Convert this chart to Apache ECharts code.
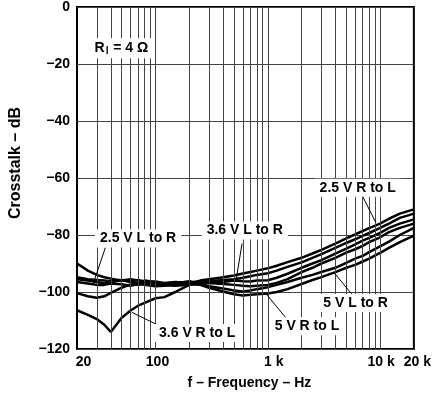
<!DOCTYPE html>
<html>
<head>
<meta charset="utf-8">
<script src="https://cdn.jsdelivr.net/npm/echarts@6/dist/echarts.min.js"></script>
<style>html,body{margin:0;padding:0;background:#fff}#c{width:434px;height:400px}</style>
</head>
<body>
<div id="c"></div>
<script>
// Frequencies (Hz)
const freqs = [20,25,30,35,40,50,60,70,80,100,120,150,200,250,300,400,500,600,700,800,1000,1200,1500,2000,2500,3000,4000,5000,6000,7000,8000,10000,12000,15000,20000];
// Crosstalk (dB)
const c1 = [-94.8,-95.5,-95.8,-96,-96.2,-96,-95.5,-96,-96.5,-96.3,-96.8,-96.5,-96.8,-96,-95.5,-94.8,-94.2,-93.5,-93,-92.5,-91.7,-90.8,-89.5,-88,-86.5,-85.2,-83,-81.2,-79.8,-78.6,-77.6,-76,-74.3,-72.5,-71];
const c2 = [-90,-92.5,-94,-94.8,-95.3,-96,-96.2,-95.8,-96.3,-96.8,-97,-96.7,-96.5,-96.8,-96.2,-95.8,-95.5,-95,-94.5,-94,-93.4,-92.5,-91.2,-89.6,-88,-86.7,-84.5,-82.8,-81.5,-80.3,-79.3,-77.5,-76,-74,-72.5];
const c3 = [-95.5,-96,-96.5,-97,-96.5,-95.8,-96.5,-97,-96,-96.5,-97.2,-97,-96.2,-97,-96.8,-96.5,-96,-96.2,-96.3,-96,-95.9,-95,-93.6,-91.5,-90,-88.8,-86.5,-84.8,-83.3,-82,-81,-79.3,-77.5,-76,-74.5];
const c4 = [-106.4,-108,-109.5,-111.5,-114,-109,-106.5,-104.8,-103.8,-102.2,-101.8,-100,-97.5,-96.5,-96.8,-97.2,-97.5,-97.8,-98,-97.8,-97.5,-96.8,-95.5,-93,-91.5,-90,-88,-86.2,-85,-83.8,-82.5,-80.8,-79,-77.5,-76];
const c5 = [-100.4,-101.5,-102,-101.5,-100.3,-98.5,-97.3,-97.5,-97,-97.2,-97.6,-97.8,-97.5,-97.3,-98,-98.8,-99.5,-99.8,-99.5,-99,-98.3,-97.5,-96.5,-95,-94,-93,-91.5,-89.8,-88.3,-87.3,-86,-84,-82.3,-80,-77.5];
const c6 = [-96.5,-97,-97.5,-97.5,-97,-97.3,-97.8,-97.2,-97.5,-98,-97.8,-97.2,-96.8,-97.5,-98.5,-99.8,-100.8,-101.2,-101,-100.8,-100.5,-100,-99,-97.2,-95.8,-94.8,-93,-91.5,-90.5,-89.3,-88.3,-86.3,-84.5,-82.5,-80.2];
const curves = [c1,c2,c3,c4,c5,c6];

// Axis ticks
const xTickValues = [20,100,1000,10000,20000];
const xGridValues = [30,40,50,60,70,80,90,100,200,300,400,500,600,700,800,900,1000,2000,3000,4000,5000,6000,7000,8000,9000,10000];

// Annotations: text, anchor [freq, dB]
const labelTexts = ['2.5 V L to R','3.6 V L to R','2.5 V R to L','5 V L to R','5 V R to L','3.6 V R to L'];
const labelAnchors = [[70,-81.2],[624,-78.4],[6325,-63.4],[6060,-103.9],[2234,-112],[235,-114.4]];
const leaderLines = [
  [[35.8,-84.4],[27.6,-97.6]],
  [[590,-83],[522,-95.9]],
  [[6800,-65.5],[9160,-75.6]],
  [[5900,-101.8],[3870,-93.1]],
  [[1510,-109.9],[954,-100.4]],
  [[61.4,-107.1],[105,-111.6]]
];
const rlAnchor = [49.7,-14.5];

const FONT = 'Liberation Sans, Arial, sans-serif';
const chart = echarts.init(document.getElementById('c'), null, {renderer:'canvas'});

const labelShift = {20:'p13', 100:'p4', 1000:'p12', 10000:'p2', 20000:'p7'};
const richX = {};
[2,4,7,12,13].forEach(n=>{ richX['p'+n] = {fontFamily:FONT, fontWeight:'bold', fontSize:14, color:'#000', padding:[0,0,0,n]}; });

const series = [];
series.push({
  type:'line', data:[], z:1, silent:true,
  markLine:{
    silent:true, symbol:'none', animation:false,
    label:{show:false},
    lineStyle:{color:'#444', width:1, type:'solid'},
    data: xGridValues.map(v=>({xAxis:v}))
  }
});
curves.forEach(c=>{
  series.push({
    type:'line', z:3, showSymbol:false, symbol:'none', animation:false,
    lineStyle:{color:'#000', width:2.5},
    data: freqs.map((f,i)=>[f,c[i]])
  });
});
series.push({
  type:'line', data:[], z:5, silent:true,
  markLine:{
    silent:true, symbol:'none', animation:false, label:{show:false},
    lineStyle:{color:'#000', width:1, type:'solid'},
    data: leaderLines.map(l=>[{coord:l[0]},{coord:l[1]}])
  },
  markPoint:{
    silent:true, animation:false,
    symbol:'rect', symbolSize:1, itemStyle:{color:'rgba(0,0,0,0)'},
    label:{show:true, position:'inside', color:'#000', fontFamily:FONT, fontWeight:'bold', fontSize:14,
      backgroundColor:'#fff', padding:[2,5]},
    data: labelTexts.map((t,i)=>({coord:labelAnchors[i], label:{formatter:t}})).concat([{
      coord: rlAnchor,
      label:{formatter:'{r|R}{s|l}{r| = 4 Ω}', padding:[2,3],
        rich:{r:{fontFamily:FONT,fontWeight:'bold',fontSize:14,color:'#000'},
              s:{fontFamily:FONT,fontWeight:'bold',fontSize:10,color:'#000',verticalAlign:'bottom',padding:[6,1,0,1]}}}
    }])
  }
});

chart.setOption({
  animation:false,
  backgroundColor:'#fff',
  grid:{left:74, right:15, top:6, bottom:51, show:true, borderColor:'#000', borderWidth:2, backgroundColor:'transparent'},
  xAxis:{
    type:'log', logBase:10, min:20, max:20000,
    axisLine:{show:false}, axisTick:{show:false}, splitLine:{show:false},
    axisLabel:{customValues:xTickValues, color:'#000', fontFamily:FONT, fontWeight:'bold', fontSize:14, margin:6,
      rich: richX,
      formatter:v=>{
        const t = v>=1000 ? (v/1000)+' k' : String(v);
        const key = labelShift[Math.round(v)];
        return key ? '{'+key+'|'+t+'}' : t;
      }},
    name:'f – Frequency – Hz', nameLocation:'middle', nameGap:27,
    nameTextStyle:{color:'#000', fontFamily:FONT, fontWeight:'bold', fontSize:14, padding:[0,0,0,8]}
  },
  yAxis:{
    type:'value', min:-120, max:0, interval:20,
    axisLine:{show:false}, axisTick:{show:false},
    splitLine:{show:true, lineStyle:{color:'#444', width:1}},
    axisLabel:{color:'#000', fontFamily:FONT, fontWeight:'bold', fontSize:14, margin:7,
      formatter:v=>String(v).replace('-','\u2212')},
    name:'Crosstalk – dB', nameLocation:'middle', nameGap:53, nameRotate:90,
    nameTextStyle:{color:'#000', fontFamily:FONT, fontWeight:'bold', fontSize:16, padding:[0,0,0,30]}
  },
  series: series
});
</script>
</body>
</html>
